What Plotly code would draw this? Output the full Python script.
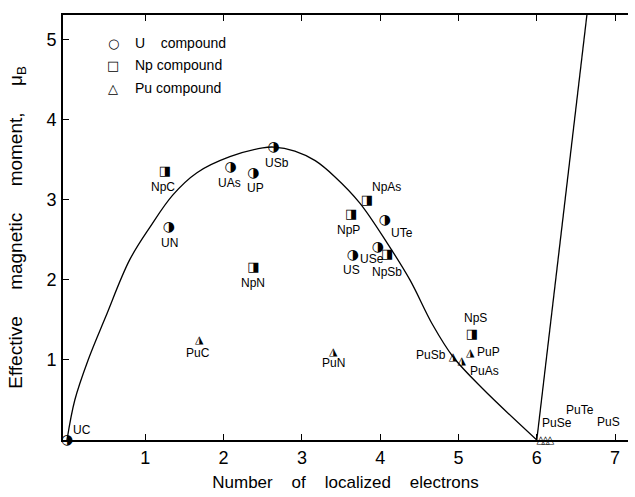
import plotly.graph_objects as go

# ---------------- data ----------------
u_names = ["UC", "UN", "UAs", "UP", "USb", "US", "USe", "UTe"]
u_x = [0.0, 1.30, 2.09, 2.38, 2.64, 3.65, 3.97, 4.06]
u_y = [0.0, 2.66, 3.41, 3.33, 3.65, 2.30, 2.41, 2.74]

np_names = ["NpC", "NpN", "NpP", "NpAs", "NpSb", "NpS"]
np_x = [1.25, 2.38, 3.63, 3.83, 4.09, 5.17]
np_y = [3.35, 2.15, 2.81, 2.99, 2.31, 1.31]

pu_names = ["PuC", "PuN", "PuSb", "PuAs", "PuP", "PuSe", "PuTe", "PuS"]
pu_x = [1.69, 3.40, 4.93, 5.04, 5.15, 6.05, 6.11, 6.17]
pu_y = [1.25, 1.10, 1.04, 0.99, 1.09, 0.0, 0.0, 0.0]

curve_x = [0.0, 0.10, 0.27, 0.49, 0.80, 1.06, 1.35, 1.66, 2.08, 2.50, 2.64,
           2.91, 3.17, 3.42, 3.74, 4.09, 4.38, 4.67, 4.93, 5.31, 6.0]
curve_y = [0.0, 0.50, 1.00, 1.53, 2.25, 2.66, 3.06, 3.34, 3.54, 3.65, 3.66,
           3.61, 3.49, 3.29, 2.96, 2.46, 2.00, 1.44, 1.04, 0.64, 0.0]

steep_x = [6.0, 6.64]
steep_y = [0.0, 5.31]

x_ticks = [1, 2, 3, 4, 5, 6, 7]
y_ticks = [1, 2, 3, 4, 5]

legend_labels = ["U\u00a0\u00a0\u00a0 compound", "Np compound", "Pu compound"]
legend_symbols = ["\u25cb", "\u25a1", "\u25b3"]

# label offsets in pixels (dx right, dy down) -- styling only
label_offsets = {
    "UC": (15, -10), "UN": (1, 16), "UAs": (-1, 16), "UP": (2, 15), "USb": (3, 15),
    "US": (-1, 14), "USe": (-6, 12), "UTe": (17, 12),
    "NpC": (-2, 15), "NpN": (0, 15), "NpP": (-3, 15), "NpAs": (20, -14),
    "NpSb": (0, 17), "NpS": (4, -17),
    "PuC": (-1, 13), "PuN": (0, 11), "PuSb": (-22, -2), "PuAs": (23, 10),
    "PuP": (18, -1), "PuSe": (16, -17), "PuTe": (35, -30), "PuS": (58, -18),
}

LABEL_FONT = "Liberation Sans, Arial, sans-serif"
GLYPH_FONT = "DejaVu Sans"
SPX = "\u00a0" * 4
SPY = "\u00a0" * 5

fig = go.Figure()

# curves
fig.add_trace(go.Scatter(x=curve_x, y=curve_y, mode="lines",
                         line=dict(color="black", width=1.3, shape="spline", smoothing=1.0),
                         showlegend=False, hoverinfo="skip"))
fig.add_trace(go.Scatter(x=steep_x, y=steep_y, mode="lines",
                         line=dict(color="black", width=1.3),
                         showlegend=False, hoverinfo="skip"))

# markers as half-filled glyphs
fig.add_trace(go.Scatter(x=u_x, y=u_y, mode="text", text=["\u25d1"] * len(u_x),
                         textfont=dict(family=GLYPH_FONT, size=14, color="black"),
                         textposition="middle center", cliponaxis=False, showlegend=False))
fig.add_trace(go.Scatter(x=np_x, y=np_y, mode="text", text=["\u25e8"] * len(np_x),
                         textfont=dict(family=GLYPH_FONT, size=13, color="black"),
                         textposition="middle center", cliponaxis=False, showlegend=False))
pu_glyphs = ["\u25ee" if v > 0 else "\u25b3" for v in pu_y]
fig.add_trace(go.Scatter(x=pu_x, y=pu_y, mode="text", text=pu_glyphs,
                         textfont=dict(family=GLYPH_FONT, size=11, color="black"),
                         textposition="middle center", cliponaxis=False, showlegend=False))

# compound labels
for names, xs, ys in [(u_names, u_x, u_y), (np_names, np_x, np_y), (pu_names, pu_x, pu_y)]:
    for n, xv, yv in zip(names, xs, ys):
        dx, dy = label_offsets[n]
        fig.add_annotation(x=xv, y=yv, xref="x", yref="y", text=n, showarrow=False,
                           xshift=dx, yshift=-dy,
                           font=dict(family=LABEL_FONT, size=12, color="black"))

# legend (as text)
leg_y = [0.934, 0.882, 0.828]
for sym, lab, yy in zip(legend_symbols, legend_labels, leg_y):
    fig.add_annotation(x=0.0885, y=yy, xref="paper", yref="paper", text=sym, showarrow=False,
                       xanchor="center", yanchor="middle",
                       font=dict(family=GLYPH_FONT, size=13, color="black"))
    fig.add_annotation(x=0.124, y=yy, xref="paper", yref="paper", text=lab, showarrow=False,
                       xanchor="left", yanchor="middle",
                       font=dict(family=LABEL_FONT, size=14, color="black"))

fig.update_layout(
    width=635, height=497,
    margin=dict(l=63, r=7, t=15, b=57),
    plot_bgcolor="white", paper_bgcolor="white",
    showlegend=False,
    font=dict(family=LABEL_FONT, color="black"),
)
fig.update_xaxes(range=[-0.051, 7.165], tickvals=x_ticks, ticktext=[str(v) for v in x_ticks],
                 ticks="inside", ticklen=6, tickwidth=1.2, tickcolor="black",
                 showline=True, linecolor="black", linewidth=2, mirror="ticks",
                 showgrid=False, zeroline=False, automargin=False,
                 tickfont=dict(family=LABEL_FONT, size=18, color="black"),
                 title=dict(text="Number" + SPX + "of" + SPX + "localized" + SPX + "electrons",
                            font=dict(family=LABEL_FONT, size=17, color="black"), standoff=10))
fig.update_yaxes(range=[0, 5.31], tickvals=y_ticks, ticktext=[str(v) for v in y_ticks],
                 ticks="inside", ticklen=6, tickwidth=1.2, tickcolor="black",
                 showline=True, linecolor="black", linewidth=2, mirror=False,
                 showgrid=False, zeroline=False, ticklabelstandoff=1, automargin=False,
                 tickfont=dict(family=LABEL_FONT, size=18, color="black"),
                 title=dict(text="Effective" + SPY + "magnetic" + SPY + "moment," + SPY + "\u03bc<sub>B</sub>",
                            font=dict(family=LABEL_FONT, size=19, color="black"), standoff=19))

fig.write_html("out.html", config={"displayModeBar": False},
               post_script="document.body.style.margin='0';document.body.style.padding='0';")
